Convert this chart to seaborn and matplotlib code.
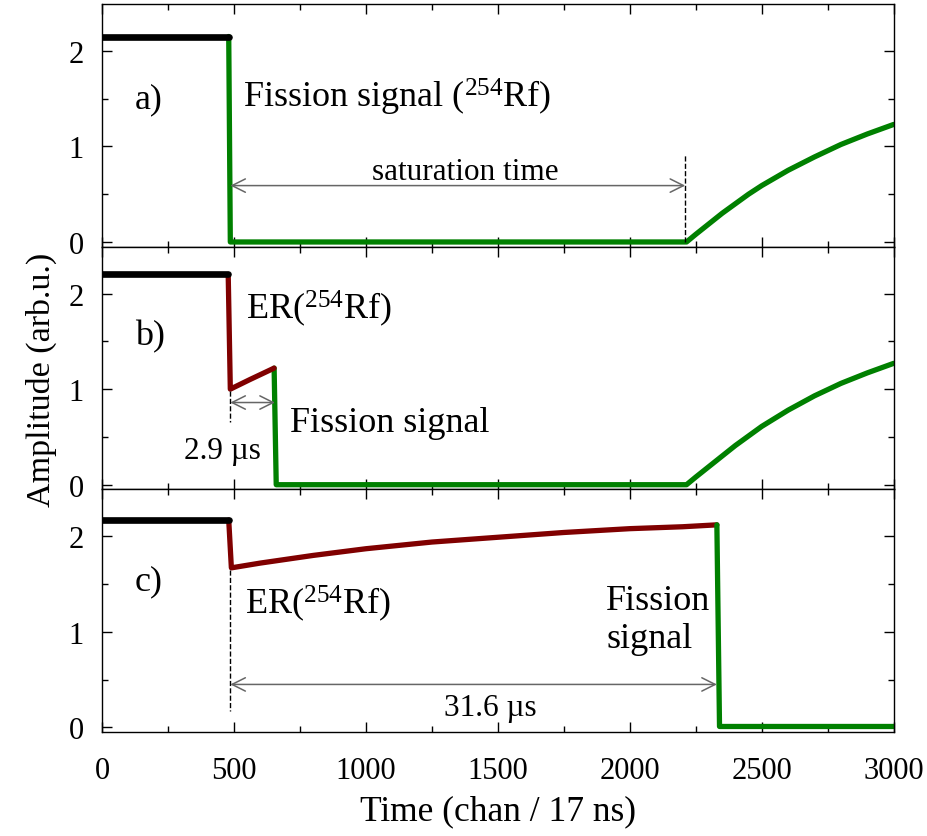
import numpy as np
import pandas as pd
import seaborn as sns
import matplotlib.pyplot as plt
from matplotlib.ticker import MultipleLocator

# Panel a) data
a_base_t = [0, 480]
a_base_v = [2.15, 2.15]
a_fis_t = [480, 486, 2215, 2250, 2300, 2350, 2400, 2450, 2500, 2600, 2700, 2800, 2900, 3000]
a_fis_v = [2.15, 0.0, 0.0, 0.08, 0.19, 0.3, 0.4, 0.5, 0.59, 0.75, 0.89, 1.02, 1.13, 1.23]

# Panel b) data
b_base_t = [0, 478]
b_base_v = [2.2, 2.2]
b_er_t = [478, 486, 560, 652]
b_er_v = [2.2, 1.0, 1.1, 1.22]
b_fis_t = [652, 660, 2215, 2250, 2300, 2350, 2400, 2450, 2500, 2600, 2700, 2800, 2900, 3000]
b_fis_v = [1.22, 0.0, 0.0, 0.08, 0.19, 0.3, 0.41, 0.51, 0.61, 0.78, 0.93, 1.06, 1.17, 1.27]

# Panel c) data
c_base_t = [0, 480]
c_base_v = [2.17, 2.17]
c_er_t = [480, 490, 600, 800, 1000, 1250, 1500, 1750, 2000, 2200, 2330]
c_er_v = [2.17, 1.67, 1.72, 1.80, 1.87, 1.94, 1.99, 2.04, 2.08, 2.10, 2.12]
c_fis_t = [2330, 2340, 3000]
c_fis_v = [2.12, 0.01, 0.01]

sns.set_theme(style="ticks")
plt.rcParams['font.family'] = ['Liberation Serif', 'DejaVu Serif']
plt.rcParams['mathtext.fontset'] = 'custom'
plt.rcParams['mathtext.rm'] = 'Liberation Serif'
plt.rcParams['mathtext.it'] = 'Liberation Serif:italic'
plt.rcParams['text.color'] = 'black'
plt.rcParams['axes.labelcolor'] = 'black'
plt.rcParams['xtick.color'] = 'black'
plt.rcParams['ytick.color'] = 'black'

BLACK, RED, GREEN = '#000000', '#800000', '#008000'
LW = 3.8
FS = 26     # annotation text
FS_S = 22.5 # small annotation text
FS_T = 22   # tick labels

fig, axes = plt.subplots(3, 1, figsize=(9.28, 8.37), dpi=100, sharex=True)
fig.subplots_adjust(left=0.110, right=0.963, top=0.994, bottom=0.124, hspace=0)

def seg(ax, t, v, color, lw=LW):
    df = pd.DataFrame({'t': t, 'v': v})
    sns.lineplot(data=df, x='t', y='v', ax=ax, color=color, lw=lw, sort=False,
                 solid_capstyle='round', solid_joinstyle='round')

def arrow(ax, x0, x1, y):
    ax.annotate('', xy=(x0, y), xytext=(x1, y),
                arrowprops=dict(arrowstyle='<->', color='#666666', lw=1.1,
                                mutation_scale=24, shrinkA=0, shrinkB=0))

# a)
ax = axes[0]
seg(ax, a_fis_t, a_fis_v, GREEN)
seg(ax, a_base_t, a_base_v, BLACK, 4.8)
ax.text(125, 1.5, 'a)', fontsize=FS, va='center')
ax.text(534, 1.52, 'Fission signal ($^{254}$Rf)', fontsize=FS, va='center')
arrow(ax, 486, 2210, 0.59)
ax.text(1375, 0.74, 'saturation time', fontsize=FS_S, ha='center', va='center')
ax.plot([2210, 2210], [0.0, 0.92], color='black', ls='--', lw=1)

# b)
ax = axes[1]
seg(ax, b_fis_t, b_fis_v, GREEN)
seg(ax, b_er_t, b_er_v, RED)
seg(ax, b_base_t, b_base_v, BLACK, 4.8)
ax.text(125, 1.56, 'b)', fontsize=FS, va='center')
ax.text(545, 1.85, 'ER($^{254}$Rf)', fontsize=FS, va='center')
arrow(ax, 486, 655, 0.86)
ax.plot([486, 486], [0.98, 0.66], color='black', ls='--', lw=1)
ax.text(458, 0.36, '2.9 µs', fontsize=FS_S, ha='center', va='center')
ax.text(712, 0.65, 'Fission signal', fontsize=FS, va='center')

# c)
ax = axes[2]
seg(ax, c_er_t, c_er_v, RED)
seg(ax, c_fis_t, c_fis_v, GREEN)
seg(ax, c_base_t, c_base_v, BLACK, 4.8)
ax.text(125, 1.53, 'c)', fontsize=FS, va='center')
ax.text(541, 1.3, 'ER($^{254}$Rf)', fontsize=FS, va='center')
ax.plot([486, 486], [1.65, 0.17], color='black', ls='--', lw=1)
arrow(ax, 486, 2330, 0.45)
ax.text(1470, 0.21, '31.6 µs', fontsize=FS_S, ha='center', va='center')
ax.text(1910, 1.13, 'Fission\nsignal', fontsize=FS, va='center', linespacing=1.2)

for ax in axes:
    ax.set_xlim(0, 3000)
    ax.set_ylim(-0.05, 2.49)
    ax.set_yticks([0, 1, 2])
    ax.yaxis.set_minor_locator(MultipleLocator(0.5))
    ax.xaxis.set_major_locator(MultipleLocator(500))
    ax.xaxis.set_minor_locator(MultipleLocator(250))
    ax.tick_params(which='both', direction='in', top=True, right=True,
                   labelsize=FS_T, width=1, color='black')
    ax.tick_params(which='major', length=7)
    ax.tick_params(which='minor', length=4)
    ax.tick_params(axis='y', which='major', pad=13)
    ax.tick_params(axis='x', which='major', pad=17)
    for s in ax.spines.values():
        s.set_color('black')
        s.set_linewidth(1)
    ax.set_xlabel('')
    ax.set_ylabel('')

fig.supylabel('Amplitude (arb.u.)', fontsize=24.5, x=0.028, y=0.546)
axes[2].set_xlabel('Time (chan / 17 ns)', fontsize=25.5, labelpad=7)

fig.savefig('out.png', dpi=100)
